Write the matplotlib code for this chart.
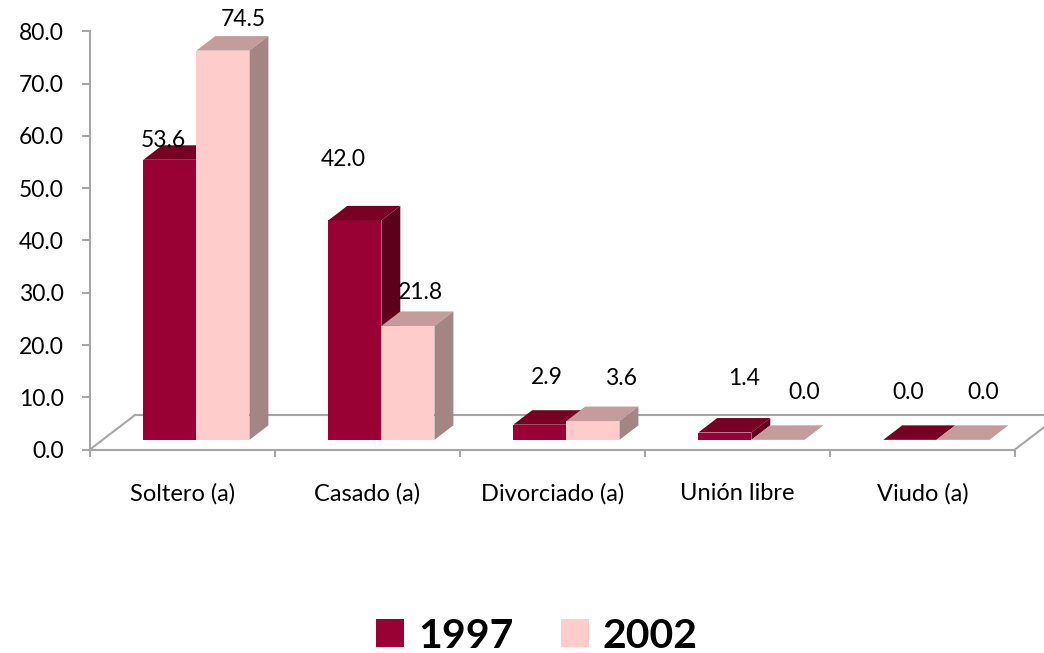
import matplotlib

matplotlib.use("Agg")

import matplotlib.pyplot as plt
from matplotlib.patches import Patch

CATEGORIES = ["Soltero (a)", "Casado (a)", "Divorciado (a)", "Unión libre", "Viudo (a)"]
YEARS = ["1997", "2002"]
VALUES_1997 = [53.6, 42.0, 2.9, 1.4, 0.0]
VALUES_2002 = [74.5, 21.8, 3.6, 0.0, 0.0]
Y_TICKS = [0, 10, 20, 30, 40, 50, 60, 70, 80]

# Excel 3D data labels sit in odd places; offsets (px) from the bar's front-top centre
LABEL_OFFSETS = [
    [(-6, 19), (-12, 61), (7, 47), (19, 54), (-2, 47)],
    [(20, 31), (12, 33), (28, 43), (26, 47), (20, 47)],
]

COLORS = [
    {"front": "#990033", "top": "#770024", "side": "#5c001c"},
    {"front": "#ffcccc", "top": "#c49c9c", "side": "#a38584"},
]
GRAY = "#a6a6a6"

W, H = 1044, 653
AX_LEFT, AX_RIGHT, AX_TOP, AX_BOTTOM = 90, 1015, 31.5, 449.5


def main() -> None:
    plt.rcParams["font.family"] = ["Lato", "DejaVu Sans"]
    fig = plt.figure(figsize=(W / 100, H / 100), dpi=100)
    ax = fig.add_axes([
        AX_LEFT / W,
        1 - AX_BOTTOM / H,
        (AX_RIGHT - AX_LEFT) / W,
        (AX_BOTTOM - AX_TOP) / H,
    ])
    n = len(CATEGORIES)
    ax.set_xlim(0, n)
    ax.set_ylim(0, Y_TICKS[-1])

    px_x = (AX_RIGHT - AX_LEFT) / n
    px_y = (AX_BOTTOM - AX_TOP) / Y_TICKS[-1]
    depth_x = 45 / px_x
    depth_y = 34.5 / px_y

    # floor outline
    line_kw = dict(color=GRAY, linewidth=1.5, clip_on=False, zorder=1)
    ax.plot([0, depth_x], [0, depth_y], **line_kw)
    ax.plot([depth_x, n + 0.4], [depth_y, depth_y], **line_kw)
    ax.plot([n, n + depth_x], [0, depth_y], **line_kw)

    bar_w = 0.287
    front, back = 0.28, 0.70
    ddx = (back - front) * depth_x
    ddy = (back - front) * depth_y
    base = front * depth_y

    for i in range(n):
        for s, values in enumerate([VALUES_1997, VALUES_2002]):
            v = values[i]
            c = COLORS[s]
            x0 = i + 0.22 + s * bar_w + front * depth_x
            x1 = x0 + bar_w
            top = base + v
            kw = dict(linewidth=0, clip_on=False, zorder=3)
            ax.fill([x0, x1, x1, x0], [base, base, top, top], color=c["front"], **kw)
            ax.fill([x0, x1, x1 + ddx, x0 + ddx], [top, top, top + ddy, top + ddy], color=c["top"], **kw)
            ax.fill([x1, x1 + ddx, x1 + ddx, x1], [base, base + ddy, top + ddy, top], color=c["side"], **kw)
            dx, dy = LABEL_OFFSETS[s][i]
            ax.annotate(
                f"{v:.1f}",
                xy=((x0 + x1) / 2, top),
                xytext=(dx, dy),
                textcoords="offset pixels",
                ha="center",
                va="center",
                fontsize=16.5,
                color="black",
                zorder=5,
                annotation_clip=False,
            )

    for side in ["top", "right"]:
        ax.spines[side].set_visible(False)
    for side in ["left", "bottom"]:
        ax.spines[side].set_color(GRAY)
        ax.spines[side].set_linewidth(1.5)
        ax.spines[side].set_zorder(2)

    ax.set_yticks(Y_TICKS)
    ax.set_yticklabels([f"{t:.1f}" for t in Y_TICKS], fontsize=16.5)
    ax.tick_params(axis="y", length=6, width=1.5, color=GRAY, pad=13)

    ax.set_xticks(range(n + 1))
    ax.set_xticklabels([])
    ax.tick_params(axis="x", which="major", length=5, width=1.5, color=GRAY)
    ax.set_xticks([i + 0.5 for i in range(n)], minor=True)
    ax.set_xticklabels(CATEGORIES, minor=True, fontsize=17)
    ax.tick_params(axis="x", which="minor", length=0, pad=24)
    ax.patch.set_alpha(0)

    handles = [Patch(facecolor=c["front"], edgecolor="none") for c in COLORS]
    fig.legend(
        handles,
        YEARS,
        loc="center",
        bbox_to_anchor=(537 / W, 17 / H),
        ncol=2,
        frameon=False,
        prop={"weight": "bold", "size": 29.5},
        handlelength=0.68,
        handleheight=0.68,
        handletextpad=0.35,
        columnspacing=1.15,
    )

    fig.savefig("out.png", dpi=100)


if __name__ == "__main__":
    main()
